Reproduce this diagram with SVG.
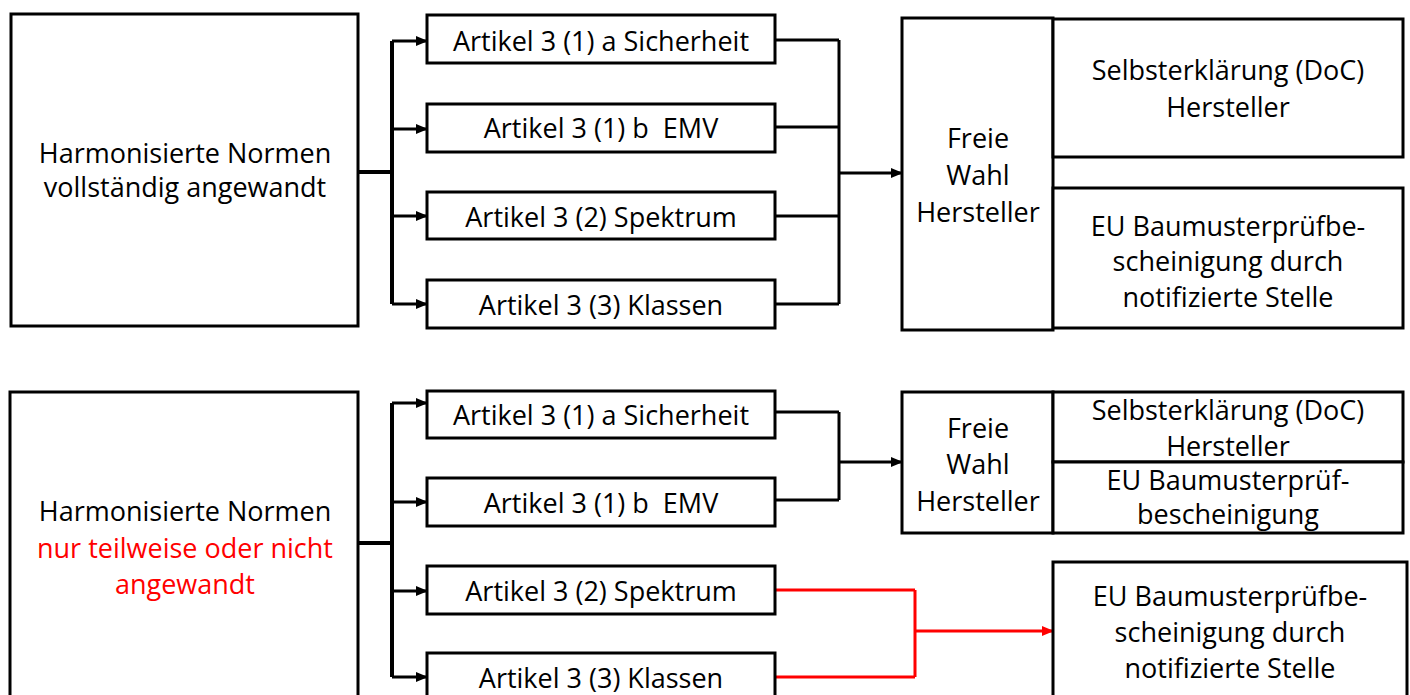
<svg xmlns="http://www.w3.org/2000/svg" width="1410" height="695" viewBox="0 0 1410 695">
  <defs>
    <style>
      .box { fill: #ffffff; stroke: #000000; stroke-width: 3; }
      .lbl { font-family: "Open Sans", "Liberation Sans", sans-serif; font-size: 27px; fill: #000000; text-anchor: middle; }
      .red { fill: #ff0000; }
      .wire { fill: none; stroke: #000000; stroke-width: 3; }
      .stem { fill: none; stroke: #000000; stroke-width: 4; }
      .wire-red { fill: none; stroke: #ff0000; stroke-width: 3; }
    </style>
    <marker id="arrow" markerUnits="userSpaceOnUse" markerWidth="12" markerHeight="10" refX="11" refY="5" orient="auto">
      <path d="M0,0 L12,5 L0,10 Z" fill="#000000"/>
    </marker>
    <marker id="arrow-red" markerUnits="userSpaceOnUse" markerWidth="12" markerHeight="10" refX="11" refY="5" orient="auto">
      <path d="M0,0 L12,5 L0,10 Z" fill="#ff0000"/>
    </marker>
  </defs>

  <rect width="1410" height="695" fill="#ffffff"/>

  <!-- Connectors -->
  <g id="connectors">
    <!-- upper block: fan-out -->
    <path class="stem" d="M358,172 H392 M392,41 V304"/>
    <path class="wire" d="M392,41 H427" marker-end="url(#arrow)"/>
    <path class="wire" d="M392,129 H427" marker-end="url(#arrow)"/>
    <path class="wire" d="M392,216 H427" marker-end="url(#arrow)"/>
    <path class="wire" d="M392,304 H427" marker-end="url(#arrow)"/>
    <!-- upper block: fan-in -->
    <path class="wire" d="M775,40 H839 M775,127 H839 M775,216 H839 M775,304 H839 M839,40 V304"/>
    <path class="wire" d="M839,173 H902" marker-end="url(#arrow)"/>

    <!-- lower block: fan-out -->
    <path class="stem" d="M358,543 H392 M392,403 V677"/>
    <path class="wire" d="M392,403 H427" marker-end="url(#arrow)"/>
    <path class="wire" d="M392,502 H427" marker-end="url(#arrow)"/>
    <path class="wire" d="M392,591 H427" marker-end="url(#arrow)"/>
    <path class="wire" d="M392,677 H427" marker-end="url(#arrow)"/>
    <!-- lower block: fan-in to free choice -->
    <path class="wire" d="M775,412 H839 M775,500 H839 M839,412 V500"/>
    <path class="wire" d="M839,462 H902" marker-end="url(#arrow)"/>
    <!-- lower block: red path to notified body -->
    <path class="wire-red" d="M775,590 H915 M775,677 H915 M915,590 V677"/>
    <path class="wire-red" d="M915,631 H1053" marker-end="url(#arrow-red)"/>
  </g>

  <!-- Upper block -->
  <g id="hn-full">
    <rect class="box" x="11" y="14" width="347" height="312"/>
    <text class="lbl" x="185" y="163">Harmonisierte Normen</text>
    <text class="lbl" x="185" y="197">vollständig angewandt</text>
  </g>
  <g id="a-sicherheit-1">
    <rect class="box" x="427" y="15" width="348" height="48"/>
    <text class="lbl" x="601" y="51">Artikel 3 (1) a Sicherheit</text>
  </g>
  <g id="b-emv-1">
    <rect class="box" x="427" y="104" width="348" height="48"/>
    <text class="lbl" x="601" y="138" xml:space="preserve">Artikel 3 (1) b  EMV</text>
  </g>
  <g id="spektrum-1">
    <rect class="box" x="427" y="192" width="348" height="47"/>
    <text class="lbl" x="601" y="227">Artikel 3 (2) Spektrum</text>
  </g>
  <g id="klassen-1">
    <rect class="box" x="427" y="280" width="348" height="48"/>
    <text class="lbl" x="601" y="315">Artikel 3 (3) Klassen</text>
  </g>
  <g id="wahl-1">
    <rect class="box" x="902" y="18" width="151" height="312"/>
    <text class="lbl" x="978" y="148">Freie</text>
    <text class="lbl" x="978" y="185">Wahl</text>
    <text class="lbl" x="978" y="222">Hersteller</text>
  </g>
  <g id="doc-1">
    <rect class="box" x="1053" y="19" width="350" height="138"/>
    <text class="lbl" x="1228" y="80">Selbsterklärung (DoC)</text>
    <text class="lbl" x="1228" y="117">Hersteller</text>
  </g>
  <g id="eu-1">
    <rect class="box" x="1053" y="188" width="350" height="140"/>
    <text class="lbl" x="1228" y="236">EU Baumusterprüfbe-</text>
    <text class="lbl" x="1228" y="271">scheinigung durch</text>
    <text class="lbl" x="1228" y="307">notifizierte Stelle</text>
  </g>

  <!-- Lower block -->
  <g id="hn-partial">
    <rect class="box" x="10" y="392" width="348" height="320"/>
    <text class="lbl" x="185" y="521">Harmonisierte Normen</text>
    <text class="lbl red" x="185" y="558">nur teilweise oder nicht</text>
    <text class="lbl red" x="185" y="594">angewandt</text>
  </g>
  <g id="a-sicherheit-2">
    <rect class="box" x="427" y="391" width="348" height="47"/>
    <text class="lbl" x="601" y="425">Artikel 3 (1) a Sicherheit</text>
  </g>
  <g id="b-emv-2">
    <rect class="box" x="427" y="478" width="348" height="48"/>
    <text class="lbl" x="601" y="513" xml:space="preserve">Artikel 3 (1) b  EMV</text>
  </g>
  <g id="spektrum-2">
    <rect class="box" x="427" y="566" width="348" height="48"/>
    <text class="lbl" x="601" y="601">Artikel 3 (2) Spektrum</text>
  </g>
  <g id="klassen-2">
    <rect class="box" x="427" y="653" width="348" height="48"/>
    <text class="lbl" x="601" y="688">Artikel 3 (3) Klassen</text>
  </g>
  <g id="wahl-2">
    <rect class="box" x="902" y="392" width="151" height="141"/>
    <text class="lbl" x="978" y="438">Freie</text>
    <text class="lbl" x="978" y="474">Wahl</text>
    <text class="lbl" x="978" y="511">Hersteller</text>
  </g>
  <g id="doc-2">
    <rect class="box" x="1053" y="392" width="350" height="70"/>
    <text class="lbl" x="1228" y="420">Selbsterklärung (DoC)</text>
    <text class="lbl" x="1228" y="456">Hersteller</text>
  </g>
  <g id="eu-2">
    <rect class="box" x="1053" y="462" width="350" height="71"/>
    <text class="lbl" x="1228" y="490">EU Baumusterprüf-</text>
    <text class="lbl" x="1228" y="524">bescheinigung</text>
  </g>
  <g id="eu-notified">
    <rect class="box" x="1053" y="562" width="354" height="150"/>
    <text class="lbl" x="1230" y="606">EU Baumusterprüfbe-</text>
    <text class="lbl" x="1230" y="642">scheinigung durch</text>
    <text class="lbl" x="1230" y="678">notifizierte Stelle</text>
  </g>
</svg>
